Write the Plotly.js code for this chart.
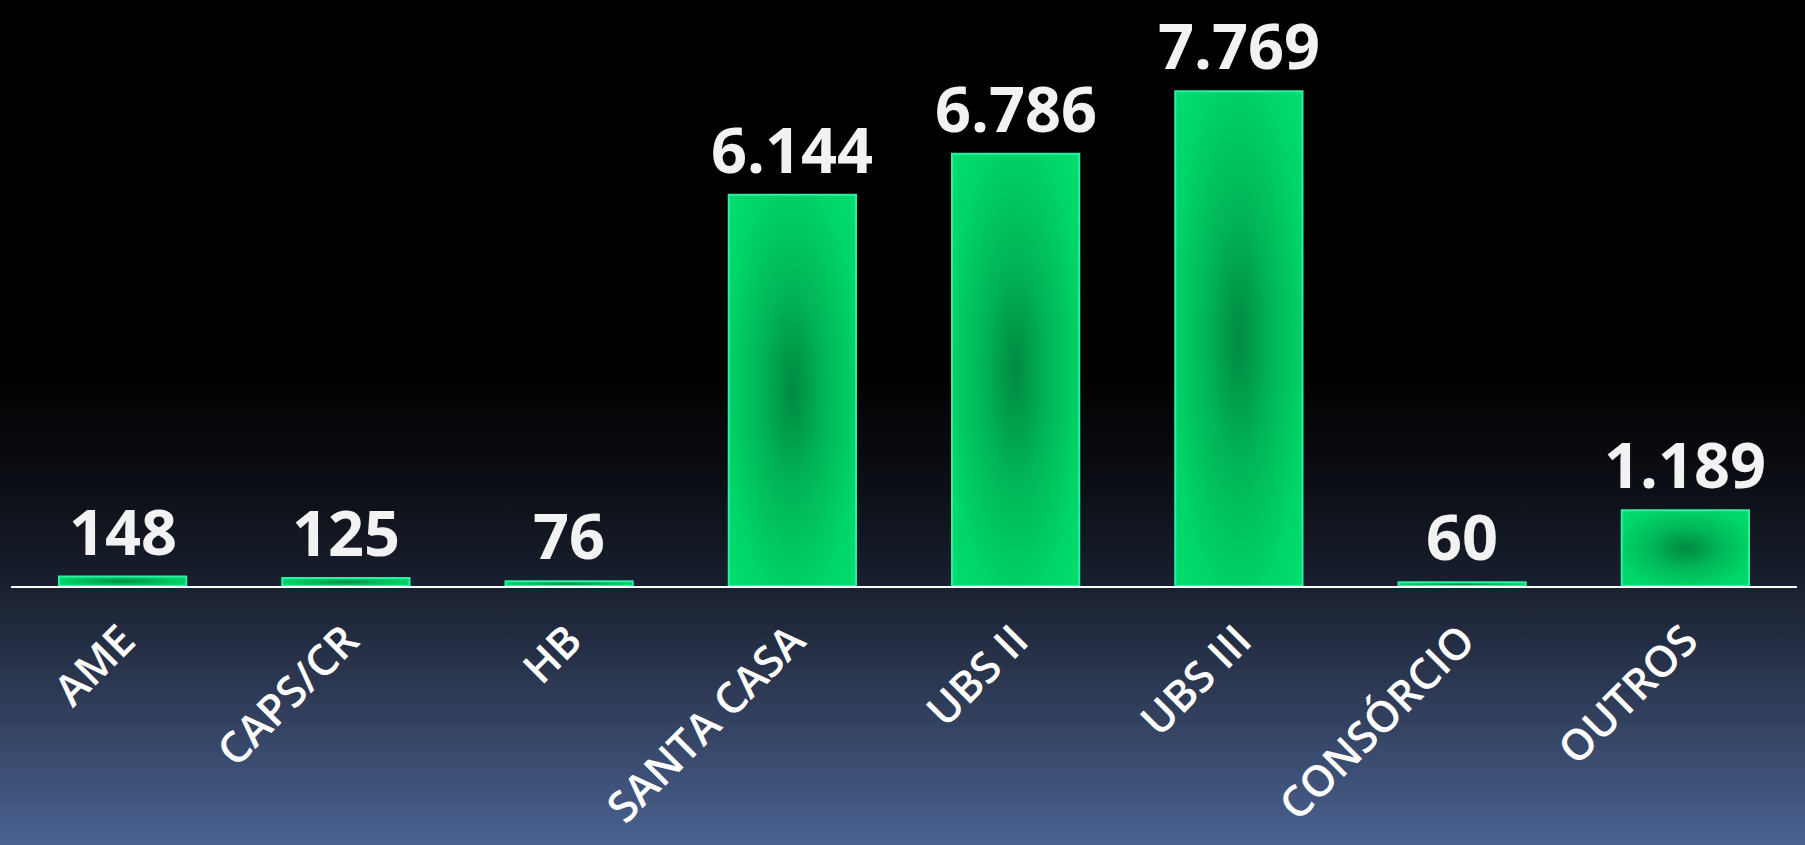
<!DOCTYPE html>
<html>
<head>
<meta charset="utf-8">
<script src="https://cdn.plot.ly/plotly-3.0.1.min.js"></script>
<style>
  html, body { margin: 0; padding: 0; }
  body {
    width: 1805px; height: 845px; overflow: hidden;
    background: linear-gradient(to bottom, #000000 0%, #000000 44%, #0c0f16 58%, #181f2e 69%, #2e3a55 82%, #4a6291 100%);
  }
  #chart { width: 1805px; height: 845px; }
</style>
</head>
<body>
<div id="chart"></div>
<script>
const categories = ["AME", "CAPS/CR", "HB", "SANTA CASA", "UBS II", "UBS III", "CONSÓRCIO", "OUTROS"];
const values = [148, 125, 76, 6144, 6786, 7769, 60, 1189];

function fmt(v) {
  return String(v).replace(/\B(?=(\d{3})+(?!\d))/g, ".");
}

const trace = {
  type: "bar",
  x: categories,
  y: values,
  marker: {
    color: "#03d46a",
    line: { color: "#2cf0a8", width: 2 }
  },
  hoverinfo: "none"
};

const annotations = categories.map((c, i) => ({
  x: c,
  y: values[i],
  xref: "x",
  yref: "y",
  text: fmt(values[i]),
  showarrow: false,
  yanchor: "bottom",
  yshift: 2,
  font: { family: "Open Sans, sans-serif", size: 63, color: "#f2f2f2", weight: 700 }
}));

const layout = {
  width: 1805,
  height: 845,
  margin: { l: 11, r: 8, t: 0, b: 259 },
  paper_bgcolor: "rgba(0,0,0,0)",
  plot_bgcolor: "rgba(0,0,0,0)",
  bargap: 0.43,
  showlegend: false,
  xaxis: {
    type: "category",
    tickangle: -45,
    ticks: "",
    showgrid: false,
    showline: true,
    linecolor: "#ffffff",
    linewidth: 2,
    zeroline: false,
    ticklabelstandoff: 10,
    tickfont: { family: "Open Sans, sans-serif", size: 43, color: "#ffffff", weight: 600 }
  },
  yaxis: {
    range: [0, 9200],
    visible: false,
    showgrid: false,
    zeroline: false
  },
  annotations: annotations
};

Plotly.newPlot("chart", [trace], layout, { displayModeBar: false, staticPlot: true }).then(function (gd) {
  const svg = gd.querySelector("svg.main-svg");
  const ns = "http://www.w3.org/2000/svg";
  let defs = svg.querySelector("defs");
  const rg = document.createElementNS(ns, "radialGradient");
  rg.setAttribute("id", "barGrad");
  rg.setAttribute("cx", "0.5");
  rg.setAttribute("cy", "0.5");
  rg.setAttribute("r", "0.75");
  [["0%", "#008a40"], ["35%", "#00b658"], ["70%", "#00d468"], ["100%", "#00e070"]].forEach(function (s) {
    const st = document.createElementNS(ns, "stop");
    st.setAttribute("offset", s[0]);
    st.setAttribute("stop-color", s[1]);
    rg.appendChild(st);
  });
  defs.appendChild(rg);
  gd.querySelectorAll(".bars .point path").forEach(function (p) {
    p.style.fill = "url(#barGrad)";
  });
});
</script>
</body>
</html>
